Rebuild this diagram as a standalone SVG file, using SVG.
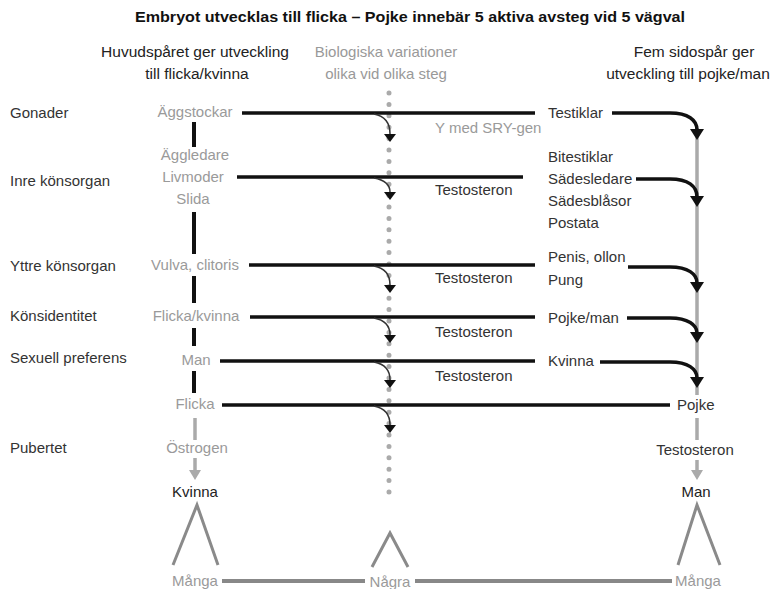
<svg xmlns="http://www.w3.org/2000/svg" width="779" height="589" viewBox="0 0 779 589">
<style>
text{font-family:"Liberation Sans",Arial,sans-serif;font-size:15px}
.t{font-weight:bold;font-size:14px;fill:#111}
.h{font-size:15.5px;fill:#222;text-anchor:middle}
.hg{font-size:15px;fill:#999;text-anchor:middle}
.row{fill:#333}
.g{fill:#9a9a9a;text-anchor:middle}
.r{fill:#333}
.c{text-anchor:middle}
.k{stroke:#111;stroke-width:3.5;fill:none}
.kv{stroke:#111;stroke-width:4;fill:none}
.thin{stroke:#333;stroke-width:1.5;fill:none}
.gl{stroke:#aaa;stroke-width:3.5;fill:none}
.gv{stroke:#8a8a8a;stroke-width:3;fill:none}
.ah{fill:#111}
.gah{fill:#aaa}
</style>
<text class="t" x="410" y="22" text-anchor="middle" textLength="550" lengthAdjust="spacingAndGlyphs">Embryot utvecklas till flicka – Pojke innebär 5 aktiva avsteg vid 5 vägval</text>
<g id="headers">
<text class="h" x="195" y="57">Huvudspåret ger utveckling</text>
<text class="h" x="197" y="79">till flicka/kvinna</text>
<text class="hg" x="386" y="57">Biologiska variationer</text>
<text class="hg" x="386" y="79">olika vid olika steg</text>
<text class="h" x="694" y="57">Fem sidospår ger</text>
<text class="h" x="688" y="79">utveckling till pojke/man</text>
</g>
<g id="rows">
<text class="row" x="10" y="118">Gonader</text>
<text class="row" x="10" y="186">Inre könsorgan</text>
<text class="row" x="10" y="271">Yttre könsorgan</text>
<text class="row" x="10" y="321">Könsidentitet</text>
<text class="row" x="10" y="363">Sexuell preferens</text>
<text class="row" x="10" y="453">Pubertet</text>
</g>
<g id="connectors">
<line x1="389" y1="93" x2="389" y2="492" stroke="#aaa" stroke-width="5" stroke-linecap="round" stroke-dasharray="0 11.4"/>
<line class="kv" x1="194" y1="122" x2="194" y2="147"/>
<line class="kv" x1="194" y1="212" x2="194" y2="254"/>
<line class="kv" x1="194" y1="276" x2="194" y2="303"/>
<line class="kv" x1="194" y1="328" x2="194" y2="346"/>
<line class="kv" x1="194" y1="371" x2="194" y2="393"/>
<line class="gl" x1="195" y1="418" x2="195" y2="440"/>
<line class="gl" x1="195" y1="458" x2="195" y2="472"/>
<polygon class="gah" points="189,470 201,470 195,480"/>
<line class="gl" x1="697" y1="128" x2="697" y2="395"/>
<line class="gl" x1="697" y1="418" x2="697" y2="440"/>
<line class="gl" x1="697" y1="460" x2="697" y2="472"/>
<polygon class="gah" points="691,470 703,470 697,480"/>
<line class="k" x1="242" y1="113" x2="535" y2="113"/>
<line class="k" x1="237" y1="177" x2="523" y2="177"/>
<line class="k" x1="249" y1="265" x2="535" y2="265"/>
<line class="k" x1="250" y1="317" x2="535" y2="317"/>
<line class="k" x1="220" y1="361" x2="535" y2="361"/>
<line class="k" x1="222" y1="405" x2="670" y2="405"/>
<path class="thin" d="M374,114 Q390,117 390,134"/>
<polygon class="ah" points="384,134 396,134 390,142"/>
<path class="thin" d="M374,178 Q390,181 390,192"/>
<polygon class="ah" points="384,192 396,192 390,200"/>
<path class="thin" d="M374,266 Q390,269 390,285"/>
<polygon class="ah" points="384,285 396,285 390,293"/>
<path class="thin" d="M374,318 Q390,321 390,335"/>
<polygon class="ah" points="384,335 396,335 390,343"/>
<path class="thin" d="M374,362 Q390,365 390,380"/>
<polygon class="ah" points="384,380 396,380 390,388"/>
<path class="thin" d="M374,406 Q390,409 390,425"/>
<polygon class="ah" points="384,425 396,425 390,433"/>
<path class="k" d="M612,113 H670 C688,113 697,120 697,130"/>
<polygon class="ah" points="690,129 704,129 697,140"/>
<path class="k" d="M636,179 H670 C688,179 697,186 697,197"/>
<polygon class="ah" points="690,196 704,196 697,207"/>
<path class="k" d="M628,267 H670 C688,267 697,274 697,283"/>
<polygon class="ah" points="690,282 704,282 697,293"/>
<path class="k" d="M627,318 H670 C688,318 697,325 697,333"/>
<polygon class="ah" points="690,332 704,332 697,343"/>
<path class="k" d="M600,362 H670 C688,362 697,369 697,378"/>
<polygon class="ah" points="690,377 704,377 697,388"/>
<polyline class="gv" points="173,565 197,505 218,565"/>
<polyline class="gv" points="372,567 390,533 408,567"/>
<polyline class="gv" points="678,565 697,505 720,565"/>
<line x1="222" y1="581" x2="365" y2="581" stroke="#888" stroke-width="4"/>
<line x1="415" y1="581" x2="672" y2="581" stroke="#888" stroke-width="4"/>
</g>
<g id="female">
<text class="g" x="195" y="117">Äggstockar</text>
<text class="g" x="195" y="160">Äggledare</text>
<text class="g" x="193" y="182">Livmoder</text>
<text class="g" x="193" y="204">Slida</text>
<text class="g" x="195" y="270">Vulva, clitoris</text>
<text class="g" x="196" y="321">Flicka/kvinna</text>
<text class="g" x="196" y="365">Man</text>
<text class="g" x="195" y="409">Flicka</text>
<text class="g" x="197" y="453">Östrogen</text>
<text class="c" x="195" y="497" fill="#222">Kvinna</text>
</g>
<g id="middle">
<text x="435" y="133" fill="#9a9a9a">Y med SRY-gen</text>
<text class="r" x="435" y="195">Testosteron</text>
<text class="r" x="435" y="283">Testosteron</text>
<text class="r" x="435" y="337">Testosteron</text>
<text class="r" x="435" y="381">Testosteron</text>
</g>
<g id="male">
<text class="r" x="548" y="118">Testiklar</text>
<text class="r" x="548" y="162">Bitestiklar</text>
<text class="r" x="548" y="184">Sädesledare</text>
<text class="r" x="548" y="206">Sädesblåsor</text>
<text class="r" x="548" y="228">Postata</text>
<text class="r" x="548" y="262">Penis, ollon</text>
<text class="r" x="548" y="285">Pung</text>
<text class="r" x="548" y="323">Pojke/man</text>
<text class="r" x="548" y="366">Kvinna</text>
<text class="r" x="677" y="410">Pojke</text>
<text class="r c" x="695" y="455">Testosteron</text>
<text class="c" x="696" y="497" fill="#222">Man</text>
</g>
<g id="bottom">
<text class="g" x="195" y="586">Många</text>
<text class="g" x="390" y="587">Några</text>
<text class="g" x="698" y="586">Många</text>
</g>
</svg>
